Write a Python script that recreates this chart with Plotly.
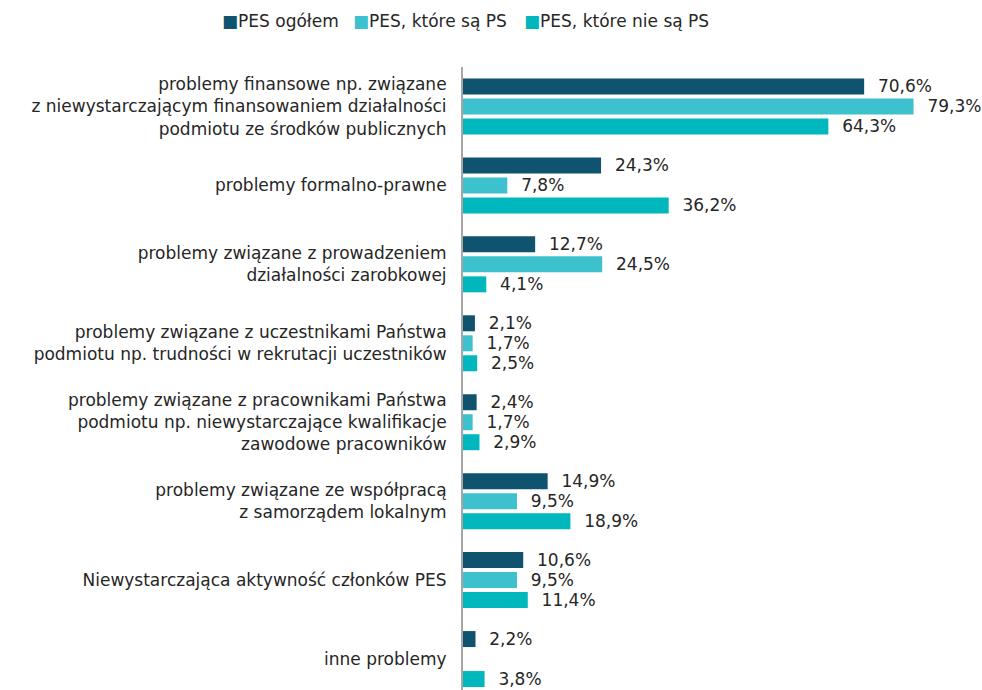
import plotly.graph_objects as go

# Problem categories (top to bottom)
categories = [
    "problemy finansowe np. związane<br>z niewystarczającym finansowaniem działalności<br>podmiotu ze środków publicznych",
    "problemy formalno-prawne",
    "problemy związane z prowadzeniem<br>działalności zarobkowej",
    "problemy związane z uczestnikami Państwa<br>podmiotu np. trudności w rekrutacji uczestników",
    "problemy związane z pracownikami Państwa<br>podmiotu np. niewystarczające kwalifikacje<br>zawodowe pracowników",
    "problemy związane ze współpracą<br>z samorządem lokalnym",
    "Niewystarczająca aktywność członków PES",
    "inne problemy",
]

series_names = ["PES ogółem", "PES, które są PS", "PES, które nie są PS"]
pes_ogolem = [70.6, 24.3, 12.7, 2.1, 2.4, 14.9, 10.6, 2.2]
pes_ps = [79.3, 7.8, 24.5, 1.7, 1.7, 9.5, 9.5, None]
pes_nie_ps = [64.3, 36.2, 4.1, 2.5, 2.9, 18.9, 11.4, 3.8]

colors = ["#10536F", "#3EC1CE", "#00B7BD"]
FONT = "DejaVu Sans"
FS = 17
TEXT_COLOR = "#262626"


def fmt(v):
    return "" if v is None else "\u00a0\u00a0" + f"{v:.1f}".replace(".", ",") + "%"


fig = go.Figure()
for name, vals, col in zip(series_names, [pes_ogolem, pes_ps, pes_nie_ps], colors):
    fig.add_trace(go.Bar(
        name=name,
        y=categories,
        x=vals,
        orientation="h",
        marker=dict(color=col, line=dict(width=0)),
        text=[fmt(v) for v in vals],
        textposition="outside",
        textfont=dict(family=FONT, size=FS, color=TEXT_COLOR),
        cliponaxis=False,
        constraintext="none",
        showlegend=False,
    ))

# Legend row drawn as coloured squares followed by series names
legend_x = [220, 351, 522]
for name, col, lx in zip(series_names, colors, legend_x):
    fig.add_annotation(
        xref="paper", yref="paper", x=(lx - 463) / 500, y=(690 - 20) / 623.5,
        xanchor="left", yanchor="middle", showarrow=False,
        text=f'<span style="color:{col}">■</span>{name}',
        font=dict(family=FONT, size=FS, color=TEXT_COLOR),
    )

fig.update_layout(
    width=982, height=690,
    margin=dict(l=463, r=19, t=66.5, b=0),
    paper_bgcolor="white", plot_bgcolor="white",
    barmode="group", bargap=0.24, bargroupgap=0.2,
    showlegend=False,
    font=dict(family=FONT, size=FS, color=TEXT_COLOR),
    xaxis=dict(range=[0, 88], visible=False, showgrid=False, zeroline=False),
    yaxis=dict(
        type="category",
        range=[7.392, -0.5],
        showgrid=False, zeroline=False,
        showline=True, linecolor="#A6A6A6", linewidth=2,
        ticks="", ticklabelstandoff=11,
        tickfont=dict(family=FONT, size=FS, color=TEXT_COLOR),
    ),
)

fig.write_html("out.html")
